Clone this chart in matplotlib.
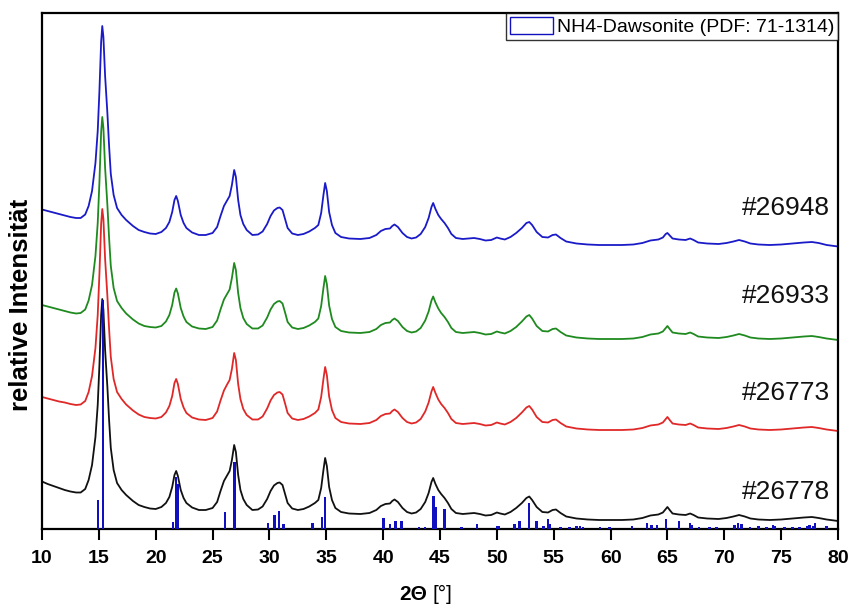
import matplotlib
matplotlib.use("Agg")
import matplotlib.pyplot as plt
from matplotlib.patches import Patch

plt.rcParams['font.family'] = ['Liberation Sans', 'DejaVu Sans']

# ---------------- data ----------------
two_theta = [10.0, 10.5, 11.0, 11.5, 12.0, 12.5, 13.0, 13.4, 13.8, 14.1,
             14.4, 14.7, 14.9, 15.05, 15.2, 15.3, 15.4, 15.55, 15.75, 15.9,
             16.05, 16.3, 16.6, 17.0, 17.4, 18.0, 18.5, 19.0, 19.5, 20.0,
             20.5, 20.9, 21.2, 21.45, 21.65, 21.8, 21.95, 22.2, 22.45, 22.7,
             23.2, 23.8, 24.4, 25.0, 25.4, 25.7, 26.0, 26.3, 26.5, 26.7,
             26.9, 27.05, 27.25, 27.45, 27.7, 28.0, 28.5, 29.0, 29.4, 29.8,
             30.1, 30.4, 30.7, 30.9, 31.15, 31.4, 31.6, 32.0, 32.5, 33.0,
             33.5, 34.0, 34.3, 34.55, 34.75, 34.9, 35.05, 35.25, 35.5, 35.8,
             36.3, 37.0, 38.0, 38.8, 39.4, 39.8, 40.2, 40.6, 40.8, 41.0,
             41.3, 41.7, 42.1, 42.5, 42.9, 43.3, 43.7, 44.0, 44.25, 44.4,
             44.6, 44.85, 45.1, 45.4, 45.7, 46.0, 46.4, 47.0, 47.5, 48.0,
             48.5, 49.0, 49.5, 50.0, 50.3, 50.7, 51.2, 51.7, 52.2, 52.6,
             52.85, 53.1, 53.5, 54.0, 54.5, 54.9, 55.2, 55.6, 56.1, 57.0,
             58.0, 59.0, 60.0, 61.0, 62.0, 62.8, 63.5, 64.2, 64.6, 64.85,
             65.0, 65.2, 65.45, 66.0, 66.6, 67.0, 67.3, 67.7, 68.5, 69.5,
             70.2, 70.8, 71.3, 71.8, 72.3, 73.0, 74.0, 75.0, 76.0, 77.0,
             77.7, 78.3, 79.0, 80.0]

int_26778 = [47.5, 45, 43, 41, 39, 37.5, 36.5, 36.5, 40, 49,
             64, 92, 124, 164, 214, 230, 219, 179, 142, 109,
             81, 59, 46, 39, 34, 28, 24, 22, 20.5, 20,
             22, 26, 32, 42, 54, 58, 53, 39, 31, 26,
             21.5, 19, 19, 21, 27, 38, 48, 54, 58, 69,
             84, 77, 54, 39, 30, 24, 19, 19.5, 22.5, 30,
             38, 43.5, 46, 46.5, 44, 34, 26, 20.5, 19, 20,
             22.5, 26, 29, 41, 59, 71, 63, 42, 29, 21,
             17, 15.5, 15, 16, 19, 23, 25, 25.5, 28, 29.5,
             27, 21, 17, 15.5, 16.5, 20, 27, 36, 47, 51,
             45, 39, 35, 31, 26, 20, 16, 15, 15.5, 16,
             15, 13.5, 14, 16.5, 15.5, 14.5, 17, 21, 26, 31,
             32.5, 29, 22, 17, 16.5, 19, 19.5, 16, 12.5, 10.5,
             9.5, 9, 9, 9, 9.5, 11, 13.5, 14.5, 16.5, 20,
             22, 19, 15.5, 14.5, 14, 15.5, 14, 11.5, 10.5, 10,
             11, 12.5, 14, 12.5, 10.5, 9.5, 9, 9.5, 10.5, 11.5,
             12, 11, 9.5, 8]

int_26773 = [42, 40.5, 39, 37.5, 36.5, 35, 34, 34.5, 38, 47,
             63, 91, 124, 165, 215, 230, 220, 180, 143, 110,
             82, 60, 47, 40, 34.5, 28.5, 24.5, 22, 21, 20.5,
             22, 26.5, 33, 43, 56, 60, 55, 40, 31.5, 26,
             21.5, 19.5, 19, 21, 27.5, 38.5, 48.5, 55, 59, 70,
             86, 79, 55, 40, 30, 24, 19.5, 19.5, 22.5, 30.5,
             38.5, 44, 46.5, 47, 44.5, 34.5, 26, 20.5, 19, 20,
             22.5, 26, 29.5, 42, 60, 72, 64, 42.5, 29, 21,
             17, 15.5, 15, 16, 19, 23, 25, 25.5, 28, 29.5,
             27, 21, 17, 15.5, 16.5, 20, 27.5, 36.5, 47.5, 52,
             46, 39.5, 35, 31, 26, 20, 16, 15, 15.5, 16,
             15, 13.5, 14, 16.5, 15.5, 14.5, 17, 21, 26.5, 31.5,
             33, 29.5, 22, 17, 16.5, 19, 19.5, 16, 12.5, 10.5,
             9.5, 9, 9, 9, 9.5, 11, 13.5, 14.5, 16.5, 20,
             22, 19, 15.5, 14.5, 14, 15.5, 14, 11.5, 10.5, 10,
             11, 12.5, 14, 12.5, 10.5, 9.5, 9, 9.5, 10.5, 11.5,
             12, 11, 9.5, 8]

int_26933 = [43, 41.5, 40, 38.5, 37, 35.5, 34.5, 35, 38.5, 47.5,
             63, 92, 125, 166, 216, 231, 220, 180, 143, 110,
             82, 60, 47, 40, 34.5, 28.5, 24.5, 22, 21, 20.5,
             22, 26.5, 33, 43, 55.5, 59.5, 54.5, 40, 31.5, 26,
             21.5, 19.5, 19, 21, 27.5, 38.5, 48.5, 54.5, 58.5, 70,
             85, 78, 55, 40, 30, 24, 19.5, 19.5, 22.5, 30.5,
             38.5, 44, 46.5, 47, 44.5, 34.5, 26, 20.5, 19, 20,
             22.5, 26, 29.5, 42, 60, 72, 64, 42.5, 29, 21,
             17, 15.5, 15, 16, 19, 23, 25, 25.5, 28, 29.5,
             27, 21, 17, 15.5, 16.5, 20, 27.5, 36.5, 47.5, 51.5,
             45.5, 39.5, 35, 31, 26, 20, 16, 15, 15.5, 16,
             15, 13.5, 14, 16.5, 15.5, 14.5, 17, 21, 26.5, 31.5,
             33, 29.5, 22, 17, 16.5, 19, 19.5, 16, 12.5, 10.5,
             9.5, 9, 9, 9, 9.5, 11, 13.5, 14.5, 16.5, 20,
             22, 19, 15.5, 14.5, 14, 15.5, 14, 11.5, 10.5, 10,
             11, 12.5, 14, 12.5, 10.5, 9.5, 9, 9.5, 10.5, 11.5,
             12, 11, 9.5, 8]

int_26948 = [44.5, 43, 41.5, 40, 38.5, 37, 36, 36, 39.5, 48,
             63, 91, 123, 163, 212, 228, 217, 178, 141, 108,
             80, 59, 46, 39, 34, 28, 24, 22, 20.5, 20,
             22, 26, 32, 42, 54, 58, 53, 39, 31, 26,
             21.5, 19, 19, 21, 27, 38, 48, 54, 58, 69,
             84, 77, 54, 39, 30, 24, 19, 19.5, 22.5, 30,
             38, 43.5, 46, 46.5, 44, 34, 26, 20.5, 19, 20,
             22.5, 26, 29, 41, 59, 71, 63, 42, 29, 21,
             17, 15.5, 15, 16, 19, 23, 25, 25.5, 28, 29.5,
             27, 21, 17, 15.5, 16.5, 20, 27, 36, 47, 51,
             45, 39, 35, 31, 26, 20, 16, 15, 15.5, 16,
             15, 13.5, 14, 16.5, 15.5, 14.5, 17, 21, 26, 31,
             32, 29, 22, 17, 16.5, 19, 19.5, 16, 12.5, 10.5,
             9.5, 9, 9, 9, 9.5, 11, 13.5, 14.5, 16.5, 20,
             21, 18.5, 15.5, 14.5, 14, 15.5, 14, 11.5, 10.5, 10,
             11, 12.5, 14, 12.5, 10.5, 9.5, 9, 9.5, 10.5, 11.5,
             12, 11, 9, 7.5]

sample_names = ["#26778", "#26773", "#26933", "#26948"]

# reference pattern NH4-Dawsonite (PDF 71-1314): positions and intensities
ref_pos = [14.9, 15.35, 21.53, 21.8, 21.9, 26.1, 26.93, 29.87, 30.45, 30.84,
           31.25, 33.8, 34.63, 34.89, 40.03, 40.6, 41.08, 41.6, 43.13, 43.7,
           44.43, 44.6, 45.4, 46.9, 48.27, 50.0, 50.2, 51.56, 52.0, 52.8,
           53.5, 54.1, 54.5, 54.65, 55.6, 56.4, 57.0, 57.3, 57.6, 59.05,
           59.9, 61.9, 63.2, 63.6, 64.1, 64.9, 66.0, 67.0, 67.1, 67.8,
           68.7, 69.3, 70.9, 71.2, 71.5, 72.25, 73.0, 73.7, 74.3, 74.45,
           75.3, 76.0, 76.6, 77.25, 77.5, 77.8, 78.0, 79.0]
ref_int = [29, 229, 7, 52, 45, 17, 67, 6, 14, 18,
           5, 6, 12, 32, 11, 5, 8, 8, 2, 2,
           33, 22, 20, 2, 5, 3, 3, 5, 8, 26,
           8, 3, 10, 5, 2, 2, 3, 3, 2, 2,
           2, 3, 6, 4, 4, 10, 8, 6, 4, 2,
           2, 2, 4, 6, 5, 2, 3, 2, 4, 3,
           2, 2, 2, 3, 4, 3, 6, 3]

x_ticks = [10, 15, 20, 25, 30, 35, 40, 45, 50, 55, 60, 65, 70, 75, 80]

# ---------------- styling ----------------
series = [int_26778, int_26773, int_26933, int_26948]
offsets = [0, 90, 181, 275]
colors = ["#111111", "#e02828", "#1f8a1f", "#1a1ac8"]
label_y = [37, 136.5, 233, 321]
stick_color = "#1010c0"

fig = plt.figure(figsize=(8.51, 6.06), dpi=100)
ax = fig.add_axes([42 / 851, 77 / 606, 796 / 851, 516 / 606])

for vals, off, col in zip(series, offsets, colors):
    ax.plot(two_theta, [v + off for v in vals], color=col, lw=1.3, zorder=2)

ax.bar(ref_pos, ref_int, width=0.21, bottom=0, color=stick_color,
       edgecolor="none", zorder=3)

for name, ly in zip(sample_names, label_y):
    ax.text(79.3, ly, name, ha="right", va="center", fontsize=19, color="#111111")

ax.set_xlim(10, 80)
ax.set_ylim(0, 516)
ax.set_xticks(x_ticks)
ax.set_xticklabels([str(t) for t in x_ticks], fontsize=14, fontweight="bold")
ax.set_yticks([])
ax.tick_params(axis="x", direction="out", length=8, width=1.5, pad=7)
for sp in ax.spines.values():
    sp.set_linewidth(1.6)

handle = Patch(facecolor="white", edgecolor=stick_color, linewidth=1.0)
leg = ax.legend([handle], ["NH4-Dawsonite (PDF: 71-1314)"], loc="upper right",
                fontsize=14, frameon=True, fancybox=False, borderaxespad=0.0,
                handlelength=2.2, handleheight=1.0, handletextpad=0.2,
                borderpad=0.2)
leg.get_frame().set_edgecolor("black")
leg.get_frame().set_linewidth(1.0)

fig.text(21 / 851, 1 - 305 / 606, "relative Intensität", rotation=90,
         ha="center", va="center", fontsize=18.5, fontweight="bold")
fig.text(427 / 851, 1 - 594 / 606, "2Θ", ha="right", va="center",
         fontsize=15, fontweight="bold")
fig.text(432 / 851, 1 - 594 / 606, "[°]", ha="left", va="center",
         fontsize=15)

fig.savefig("out.png", dpi=100)
